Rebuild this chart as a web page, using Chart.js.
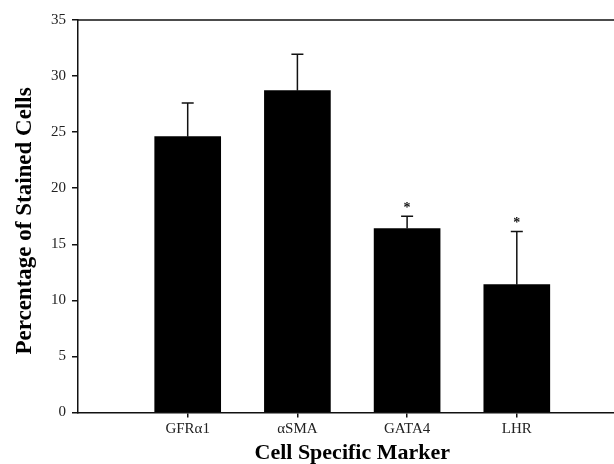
<!DOCTYPE html>
<html>
<head>
<meta charset="utf-8">
<script src="https://cdn.jsdelivr.net/npm/chart.js@4.4.0/dist/chart.umd.min.js"></script>
<style>
    html, body { margin: 0; padding: 0; background: #fff; }
    canvas { display: block; }
</style>
</head>
<body>
<canvas id="markerChart" width="614" height="464"></canvas>
<script>
const categories = ['GFR\u03b11', '\u03b1SMA', 'GATA4', 'LHR'];
const means = [24.6, 28.7, 16.4, 11.4];
const errors = [3.0, 3.25, 1.1, 4.75];
const significance = ['', '', '*', '*'];
const yTicks = [0, 5, 10, 15, 20, 25, 30, 35];

const serif = '"Liberation Serif", "Times New Roman", serif';

// error bars, significance stars, top frame line and axis titles
const extras = {
    id: 'extras',
    afterDatasetsDraw(chart) {
        const { ctx, chartArea, scales: { x, y } } = chart;
        ctx.save();
        ctx.strokeStyle = '#111';
        ctx.lineWidth = 1.5;
        ctx.beginPath();
        ctx.moveTo(chartArea.left, chartArea.top);
        ctx.lineTo(chartArea.right, chartArea.top);
        ctx.stroke();

        means.forEach((m, i) => {
            const px = x.getPixelForValue(i + 1);
            const base = y.getPixelForValue(m);
            const top = y.getPixelForValue(m + errors[i]);
            ctx.beginPath();
            ctx.moveTo(px, base);
            ctx.lineTo(px, top);
            ctx.moveTo(px - 6, top);
            ctx.lineTo(px + 6, top);
            ctx.stroke();
            if (significance[i]) {
                ctx.fillStyle = '#111';
                ctx.font = 'bold 14px ' + serif;
                ctx.textAlign = 'center';
                ctx.textBaseline = 'alphabetic';
                ctx.fillText(significance[i], px, top - 4);
            }
        });

        ctx.fillStyle = '#000';
        ctx.textAlign = 'center';
        ctx.textBaseline = 'middle';
        ctx.font = 'bold 22px ' + serif;
        ctx.fillText('Cell Specific Marker', x.getPixelForValue(2.5), 453);
        ctx.font = 'bold 23px ' + serif;
        ctx.translate(25, 221);
        ctx.rotate(-Math.PI / 2);
        ctx.fillText('Percentage of Stained Cells', 0, 0);
        ctx.restore();
    }
};

new Chart(document.getElementById('markerChart'), {
    type: 'bar',
    data: {
        datasets: [{
            data: categories.map((c, i) => ({ x: i + 1, y: means[i] })),
            backgroundColor: '#000',
            borderWidth: 0,
            barThickness: 66
        }]
    },
    options: {
        responsive: false,
        animation: false,
        layout: { padding: { top: 20, right: 0, left: 0, bottom: 0 } },
        plugins: { legend: { display: false }, tooltip: { enabled: false } },
        scales: {
            x: {
                type: 'linear',
                min: 0,
                max: 4.886,
                offset: false,
                afterFit: s => { s.height = 51.5; },
                afterBuildTicks: s => { s.ticks = categories.map((c, i) => ({ value: i + 1 })); },
                grid: { offset: false, drawOnChartArea: false, tickLength: 5, color: '#111', lineWidth: 1.5 },
                border: { display: true, color: '#111', width: 1.5 },
                ticks: {
                    padding: 3,
                    color: '#222',
                    font: { family: serif, size: 15 },
                    callback: v => categories[v - 1]
                }
            },
            y: {
                min: 0,
                max: 35,
                afterFit: s => { s.width = 78; },
                afterBuildTicks: s => { s.ticks = yTicks.map(v => ({ value: v })); },
                grid: { drawOnChartArea: false, tickLength: 6, color: '#111', lineWidth: 1.5 },
                border: { display: true, color: '#111', width: 1.5 },
                ticks: {
                    padding: 6,
                    color: '#222',
                    font: { family: serif, size: 15 }
                }
            }
        }
    },
    plugins: [extras]
});
</script>
</body>
</html>
